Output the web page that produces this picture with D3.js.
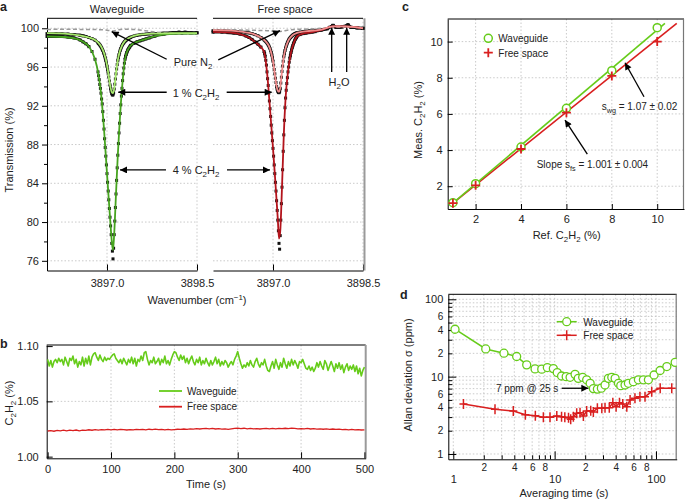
<!DOCTYPE html>
<html><head><meta charset="utf-8">
<script src="https://cdn.jsdelivr.net/npm/d3@7"></script>
<style>
body{margin:0;background:#fff}
svg{display:block}
text{font-family:"Liberation Sans",Arial,Helvetica,sans-serif;fill:#222}
</style>
</head><body>
<svg id="chart" width="685" height="500"></svg>
<script>
// ---------------- Panel a data ----------------
const wnGrid = [3896.00,3896.15,3896.25,3896.35,3896.45,3896.55,3896.60,3896.65,3896.70,3896.75,3896.80,3896.85,
3896.86,3896.87,3896.88,3896.89,3896.90,3896.91,3896.92,3896.93,3896.94,3896.95,3896.96,3896.97,3896.98,3896.99,
3897.00,3897.01,3897.02,3897.03,3897.04,3897.05,3897.06,3897.07,3897.08,3897.09,3897.10,3897.11,3897.12,3897.13,3897.14,
3897.15,3897.16,3897.17,3897.18,3897.19,3897.20,3897.21,3897.22,3897.23,3897.24,3897.25,3897.26,3897.27,3897.28,3897.29,
3897.30,3897.31,3897.32,3897.33,3897.34,3897.35,3897.36,3897.37,3897.38,3897.39,3897.40,
3897.45,3897.50,3897.55,3897.60,3897.65,3897.70,3897.80,3897.90,3897.95,3898.00,3898.05,3898.10,3898.15,3898.20,3898.25,3898.30,3898.40,3898.50];
const wg4Meas = [99.15,99.15,99.15,99.1,99.0,98.8,98.6,98.4,98.1,97.6,96.8,95.5,
95.1,94.7,94.2,93.8,93.3,92.7,92.2,91.4,90.5,89.6,88.6,87.7,86.8,85.9,
85.0,84.1,83.2,82.3,81.4,80.5,79.6,78.7,77.8,77.0,76.2,77.3,78.7,80.1,81.5,82.9,84.3,85.6,86.9,88.1,89.2,90.2,91.2,92.1,93.0,93.8,94.6,95.3,95.9,96.4,96.8,97.1,97.3,97.5,97.65,97.8,97.9,98.0,98.1,98.2,98.25,
98.45,98.6,98.7,98.8,98.9,99.0,99.2,99.35,99.4,99.45,99.5,99.55,99.55,99.6,99.55,99.6,99.55,99.55];
const wg1Meas = [99.45,99.45,99.42,99.4,99.35,99.28,99.22,99.15,99.05,98.93,98.77,98.5,
98.43,98.36,98.28,98.19,98.09,97.98,97.85,97.71,97.55,97.37,97.17,96.94,96.69,96.4,
96.09,95.74,95.37,94.97,94.56,94.16,93.79,93.47,93.24,93.12,93.13,93.34,93.73,94.23,94.77,95.30,95.80,96.25,96.64,96.98,97.27,97.52,97.73,97.91,98.07,98.20,98.32,98.42,98.51,98.59,98.66,98.72,98.78,98.83,98.88,98.92,98.96,99.0,99.03,99.06,99.09,
99.2,99.28,99.33,99.37,99.4,99.42,99.45,99.48,99.5,99.5,99.5,99.52,99.52,99.55,99.52,99.55,99.52,99.52];
const fs4Meas = [99.6,99.6,99.55,99.5,99.4,99.2,99.05,98.85,98.6,98.35,98.05,97.6,
97.4,97.1,96.7,96.2,95.5,94.8,94.1,93.3,92.5,91.7,90.9,90.0,89.2,88.4,
87.6,86.8,85.9,85.0,84.1,83.2,82.2,81.2,80.2,79.1,77.8,77.2,78.6,80.2,81.9,83.6,85.4,87.3,89.0,90.5,91.8,92.8,93.6,94.3,94.9,95.5,96.0,96.5,96.9,97.2,97.5,97.75,98.0,98.2,98.4,98.55,98.7,98.85,98.95,99.05,99.15,
99.35,99.45,99.5,99.55,99.6,99.65,99.8,99.95,100.1,100.3,100.1,100.1,100.15,100.2,100.35,100.1,100.05,100.0];
const fs1Meas = [99.75,99.75,99.72,99.7,99.65,99.58,99.52,99.45,99.35,99.22,99.05,98.82,
98.77,98.71,98.64,98.57,98.49,98.40,98.30,98.18,98.05,97.9,97.72,97.5,97.25,96.95,
96.6,96.2,95.75,95.3,94.85,94.4,94.0,93.7,93.5,93.38,93.35,93.45,93.8,94.35,94.95,95.55,96.1,96.6,97.05,97.4,97.7,97.95,98.15,98.35,98.5,98.65,98.78,98.88,98.97,99.05,99.12,99.18,99.24,99.3,99.34,99.38,99.42,99.45,99.48,99.5,99.52,
99.6,99.65,99.7,99.72,99.75,99.78,99.85,99.95,100.1,100.3,100.1,100.1,100.15,100.2,100.35,100.1,100.05,100.0];
const fitWn = [3896.00,3896.30,3896.50,3896.60,3896.70,3896.80,3896.85,3896.90,3896.95,3897.00,3897.03,3897.06,3897.08,3897.10,3897.12,3897.15,3897.18,3897.21,3897.25,3897.30,3897.35,3897.40,3897.50,3897.60,3897.80,3898.00,3898.20,3898.50];
const wg4Fit = [99.15,99.1,98.9,98.6,98.1,96.8,95.5,93.3,89.6,85.0,82.3,79.6,78.0,77.1,78.8,82.9,86.9,90.2,93.8,96.8,97.8,98.25,98.6,98.8,99.2,99.4,99.45,99.45];
const wg1Fit = [99.5,99.45,99.3,99.2,99.05,98.8,98.55,98.15,97.45,96.2,95.0,93.85,93.4,93.3,93.8,95.35,96.7,97.55,98.2,98.7,98.95,99.1,99.3,99.38,99.45,99.48,99.5,99.5];
const fs4Fit = [99.62,99.55,99.3,99.05,98.6,98.05,97.6,95.5,91.7,87.6,85.0,82.2,80.3,78.3,79.0,83.6,89.0,92.8,95.5,97.5,98.55,99.15,99.45,99.55,99.8,100.2,100.2,100.0];
const fs1Fit = [99.8,99.75,99.62,99.52,99.35,99.05,98.82,98.49,97.9,96.6,95.3,94.0,93.55,93.45,93.85,95.55,97.05,97.95,98.65,99.12,99.38,99.52,99.65,99.72,99.85,100.2,100.2,100.0];
const n2Wn = [3896.00,3896.30,3896.60,3896.90,3897.00,3897.10,3897.20,3897.30,3897.50,3897.70,3897.90,3898.10,3898.30,3898.50];
const n2Wg = [99.88,99.9,99.88,99.85,99.8,99.72,99.85,99.9,99.85,99.7,99.55,99.45,99.4,99.4];
const n2Fs = [99.85,99.85,99.8,99.75,99.7,99.68,99.75,99.85,99.9,99.95,100.05,100.1,100.1,100.05];
const aYTicks = [76,80,84,88,92,96,100];
const aYMinor = [78,82,86,90,94,98];
const aXTicks = [3897.0,3898.5];

// ---------------- Panel b data ----------------
const bWgInterval = 2.5;
const bWg = [1.088,1.082,1.087,1.081,1.086,1.088,1.085,1.089,1.086,1.088,1.083,
1.090,1.086,1.082,1.089,1.087,1.091,1.084,1.088,1.081,1.086,
1.083,1.090,1.082,1.089,1.084,1.091,1.083,1.090,1.093,1.094,
1.090,1.087,1.092,1.088,1.086,1.090,1.087,1.089,1.088,1.090,
1.092,1.093,1.089,1.087,1.085,1.088,1.084,1.089,1.086,1.083,
1.088,1.085,1.090,1.084,1.089,1.082,1.088,1.086,1.091,1.087,
1.094,1.095,1.088,1.083,1.087,1.085,1.090,1.084,1.086,1.089,
1.083,1.088,1.085,1.091,1.084,1.087,1.083,1.088,1.092,1.095,
1.094,1.090,1.087,1.092,1.088,1.091,1.085,1.089,1.084,1.088,
1.091,1.086,1.083,1.088,1.085,1.090,1.083,1.087,1.084,1.089,
1.085,1.082,1.087,1.083,1.086,1.090,1.084,1.088,1.082,1.086,
1.083,1.087,1.085,1.081,1.084,1.086,1.083,1.088,1.091,1.095,
1.089,1.084,1.080,1.083,1.081,1.085,1.082,1.087,1.083,1.081,
1.086,1.089,1.084,1.081,1.085,1.083,1.088,1.082,1.078,1.077,
1.082,1.086,1.080,1.088,1.083,1.079,1.085,1.081,1.089,1.084,
1.080,1.086,1.082,1.088,1.083,1.087,1.084,1.080,1.086,1.085,
1.088,1.084,1.080,1.079,1.082,1.078,1.081,1.077,1.080,1.085,
1.081,1.086,1.082,1.079,1.087,1.084,1.078,1.082,1.086,1.082,
1.077,1.084,1.080,1.085,1.079,1.083,1.076,1.081,1.084,1.078,
1.082,1.079,1.083,1.077,1.082,1.075,1.080,1.073,1.078,1.081];
const bFsInterval = 5;
const bFs = [1.0232,1.0236,1.0230,1.0238,1.0234,1.0240,1.0233,1.0239,1.0236,1.0241,
1.0234,1.0240,1.0237,1.0243,1.0239,1.0244,1.0240,1.0245,1.0242,1.0246,
1.0243,1.0247,1.0242,1.0246,1.0244,1.0241,1.0245,1.0243,1.0247,1.0244,
1.0246,1.0243,1.0248,1.0245,1.0249,1.0244,1.0247,1.0243,1.0246,1.0242,
1.0245,1.0248,1.0246,1.0250,1.0247,1.0251,1.0249,1.0253,1.0250,1.0254,
1.0256,1.0252,1.0255,1.0250,1.0253,1.0249,1.0252,1.0247,1.0251,1.0255,
1.0258,1.0254,1.0257,1.0252,1.0255,1.0251,1.0254,1.0250,1.0253,1.0256,
1.0252,1.0255,1.0251,1.0256,1.0253,1.0257,1.0254,1.0258,1.0255,1.0252,
1.0254,1.0251,1.0255,1.0250,1.0253,1.0249,1.0252,1.0248,1.0251,1.0247,
1.0250,1.0246,1.0249,1.0245,1.0247,1.0243,1.0246,1.0242,1.0244,1.0241,
1.0243];
const bXTicks = [0,100,200,300,400,500];
const bYTicks = [1.00,1.05,1.10];

// ---------------- Panel c data ----------------
const cRef = [1,2,4,6,8,10];
const cWg = [1.09,2.14,4.17,6.31,8.39,10.77];
const cFs = [1.06,2.05,4.06,6.07,8.10,10.0];
const cWgFitRef = [0.92,10.34], cWgFitMeas = [0.98,11.01];
const cFsFitRef = [0.92,10.86], cFsFitMeas = [0.98,11.01];
const cTicks = [2,4,6,8,10];

// ---------------- Panel d data ----------------
const dWgTau = [1.04,2.09,3.16,4.22,5.30,6.41,7.46,8.47,9.71,10.6,11.7,13.0,14.2,15.9,17.1,18.9,20.7,22.4,24.1,26.4,28.9,31.4,33.9,36.6,39.5,42.6,44.9,49.5,53.4,59.8,67.0,75.1,84.1,95.7,109.8,127.9,154.5];
const dWgSig = [41.0,22.8,20.1,18.2,14.2,12.6,12.5,13.1,12.7,11.3,10.2,10.0,9.8,10.7,9.5,9.8,9.1,8.2,7.0,6.9,7.1,7.8,9.5,9.8,9.5,8.2,7.65,7.8,8.2,8.6,9.1,9.1,9.1,10.5,12.0,13.5,15.3];
const dFsTau = [1.26,2.58,3.91,5.14,6.45,7.74,9.0,10.5,11.7,12.6,13.7,14.4,15.3,16.5,17.8,19.2,20.7,22.7,24.1,26.4,29.2,31.4,34.6,37.5,40.4,43.6,47.0,51.5,55.5,62.0,69.4,77.9,90.7,110,143];
const dFsSig = [4.44,3.78,3.6,3.22,3.13,2.98,2.98,3.10,3.04,2.98,2.95,2.81,3.04,3.36,3.42,3.10,3.6,3.63,3.5,3.90,3.90,3.97,3.97,4.61,4.09,4.61,4.44,4.09,5.0,5.25,5.51,5.51,6.4,7.07,7.07];
const dMajor = [1,10,100];
const dMinorX = [2,3,4,5,6,7,8,9,20,30,40,50,60,70,80,90];
const dLabelX = [2,4,6,8,20,40,60,80];
const dMinorY = [2,3,4,5,6,7,8,9,20,30,40,50,60,70,80,90];
const dLabelY = [2,4,6,20,40,60];

// ---------------- colours ----------------
const GREEN = "#66cc1a", RED = "#d91f1f";
const WG4C = "#46a31f", WG1C = "#a6e86c", FS4C = "#b3141c", FS1C = "#f08c8c";

const svg = d3.select("#chart");
svg.append("rect").attr("width",685).attr("height",500).attr("fill","#fff");
const defs = svg.append("defs");
defs.append("marker").attr("id","ah").attr("viewBox","0 0 10 10").attr("refX",10).attr("refY",5)
  .attr("markerWidth",9).attr("markerHeight",7).attr("markerUnits","userSpaceOnUse").attr("orient","auto")
  .append("path").attr("d","M0,0L10,5L0,10z").attr("fill","#000");

function rich(parent, x, y, parts, opts={}) {
  const size = opts.size || 11;
  const t = parent.append("text").attr("x", x).attr("y", y).attr("font-size", size)
    .attr("text-anchor", opts.anchor || "start");
  if (opts.weight) t.attr("font-weight", opts.weight);
  if (opts.rotate) t.attr("transform", `rotate(-90 ${x} ${y})`);
  let shift = 0;
  parts.forEach(p => {
    const [s, mode] = Array.isArray(p) ? p : [p, ""];
    const target = mode === "sub" ? 3 : mode === "sup" ? -4 : 0;
    const ts = t.append("tspan").text(s);
    if (target - shift !== 0) ts.attr("dy", target - shift);
    if (mode) ts.attr("font-size", size * 0.72);
    shift = target;
  });
  return t;
}
function arrow(g, x1, y1, x2, y2) {
  g.append("line").attr("x1",x1).attr("y1",y1).attr("x2",x2).attr("y2",y2)
    .attr("stroke","#000").attr("stroke-width",1.3).attr("marker-end","url(#ah)");
}
function styleAxis(g, size) {
  g.attr("font-family", null).attr("font-size", size || 11);
  g.selectAll("text").attr("fill", "#222");
}
function grid(g, lines) {
  g.selectAll(null).data(lines).join("line")
    .attr("x1", d=>d[0]).attr("y1", d=>d[1]).attr("x2", d=>d[2]).attr("y2", d=>d[3])
    .attr("stroke","#bdbdbd").attr("stroke-width",0.8).attr("stroke-dasharray","1.5,2");
}

// ================= Panel a =================
const aY = d3.scaleLinear().domain([75.0, 101.03]).range([270.5, 18.3]);
const aXL = d3.scaleLinear().domain([3896.0, 3898.5]).range([47, 197]);
const aXR = d3.scaleLinear().domain([3896.0, 3898.5]).range([213, 363]);
const ga = svg.append("g");

[aXL, aXR].forEach(xs => {
  const [x0, x1] = xs.range();
  grid(ga, aYTicks.map(v => [x0, aY(v), x1, aY(v)]).concat(aXTicks.map(v => [xs(v), aY.range()[1], xs(v), aY.range()[0]])));
  ga.append("line").attr("x1",x0).attr("x2",x1).attr("y1",aY.range()[1]).attr("y2",aY.range()[1]).attr("stroke","#000").attr("stroke-width",1);
  const ax = ga.append("g").attr("transform",`translate(0,${aY.range()[0]})`)
    .call(d3.axisBottom(xs).tickValues(aXTicks).tickFormat(d3.format(".1f")).tickSize(-6).tickSizeOuter(0).tickPadding(9));
  styleAxis(ax, 11);
});
ga.append("line").attr("x1",364.5).attr("x2",364.5).attr("y1",aY.range()[1]).attr("y2",aY.range()[0]).attr("stroke","#9a9a9a").attr("stroke-width",2);
const aLeft = ga.append("g").attr("transform","translate(47,0)")
  .call(d3.axisLeft(aY).tickValues(aYTicks).tickSize(5).tickSizeOuter(0).tickPadding(3));
styleAxis(aLeft, 11);
ga.append("g").attr("transform","translate(47,0)")
  .call(d3.axisLeft(aY).tickValues(aYMinor).tickSize(3).tickSizeOuter(0).tickFormat(""))
  .select(".domain").remove();

function drawMeasured(xs, T) {
  const pts = wnGrid.map((w,i) => [xs(w), aY(T[i])]);
  const runs = []; let cur = [pts[0]];
  for (let i = 1; i < pts.length; i++) {
    if (Math.abs(pts[i][1] - pts[i-1][1]) < 3.6) cur.push(pts[i]);
    else { runs.push(cur); cur = [pts[i]]; }
  }
  runs.push(cur);
  runs.filter(r => r.length > 1).forEach(r => ga.append("path")
    .attr("d", d3.line().curve(d3.curveMonotoneX)(r)).attr("fill","none")
    .attr("stroke","#111").attr("stroke-width",2.8).attr("stroke-linejoin","round"));
  ga.append("g").selectAll("rect").data(pts).join("rect")
    .attr("x", d => d[0]-1.5).attr("y", d => d[1]-1.5).attr("width",3).attr("height",3).attr("fill","#111");
}
function drawLine(xs, wn, T, color, width, dash) {
  const p = ga.append("path")
    .attr("d", d3.line().x((d,i)=>xs(wn[i])).y(d=>aY(d)).curve(d3.curveMonotoneX)(T))
    .attr("fill","none").attr("stroke",color).attr("stroke-width",width);
  if (dash) p.attr("stroke-dasharray", dash);
}
drawMeasured(aXL, wg4Meas);
drawMeasured(aXL, wg1Meas);
drawMeasured(aXR, fs4Meas);
drawMeasured(aXR, fs1Meas);
drawLine(aXL, n2Wn, n2Wg, "#9a9a9a", 1.5, "4,2.5");
drawLine(aXR, n2Wn, n2Fs, "#9a9a9a", 1.5, "4,2.5");
drawLine(aXL, fitWn, wg4Fit, WG4C, 1.8);
drawLine(aXL, fitWn, wg1Fit, WG1C, 1.8);
drawLine(aXR, fitWn, fs4Fit, FS4C, 1.8);
drawLine(aXR, fitWn, fs1Fit, FS1C, 1.8);

// annotations panel a
arrow(ga, aXL(3897.995), aY(96.8), aXL(3897.078), aY(99.65));
arrow(ga, aXR(3896.088), aY(96.73), aXR(3897.117), aY(99.75));
arrow(ga, aXL(3897.995), aY(93.4), aXL(3897.188), aY(93.4));
arrow(ga, aXR(3896.228), aY(93.4), aXR(3896.978), aY(93.4));
arrow(ga, aXL(3897.983), aY(85.38), aXL(3897.217), aY(85.38));
arrow(ga, aXR(3896.233), aY(85.38), aXR(3896.95), aY(85.38));
arrow(ga, aXR(3897.978), aY(95.5), aXR(3897.978), aY(100.05));
arrow(ga, aXR(3898.228), aY(95.5), aXR(3898.228), aY(100.05));
rich(ga, 193, 65.5, ["Pure N", ["2","sub"]], {anchor:"middle"});
rich(ga, 196, 96.5, ["1 % C", ["2","sub"], "H", ["2","sub"]], {anchor:"middle"});
rich(ga, 196, 174, ["4 % C", ["2","sub"], "H", ["2","sub"]], {anchor:"middle"});
rich(ga, 339, 85.5, ["H", ["2","sub"], "O"], {anchor:"middle"});
rich(ga, 117, 12.5, ["Waveguide"], {anchor:"middle"});
rich(ga, 285, 12.5, ["Free space"], {anchor:"middle"});
rich(ga, 12.5, 150, ["Transmission (%)"], {anchor:"middle", rotate:true});
rich(ga, 197, 304, ["Wavenumber (cm", ["−1","sup"], ")"], {anchor:"middle"});
rich(ga, 0, 11, ["a"], {size:12.5, weight:"bold"});

// ================= Panel b =================
const bX = d3.scaleLinear().domain([-1.5, 502]).range([46.7, 365.7]);
const bY = d3.scaleLinear().domain([0.9985, 1.101]).range([458.3, 345]);
const gb = svg.append("g");
grid(gb, [100,200,300,400].map(v => [bX(v), bY.range()[1], bX(v), bY.range()[0]]).concat([[bX.range()[0], bY(1.05), bX.range()[1], bY(1.05)]]));
gb.append("line").attr("x1",bX.range()[0]).attr("x2",bX.range()[1]).attr("y1",345).attr("y2",345).attr("stroke","#000");
gb.append("line").attr("x1",365.7).attr("x2",365.7).attr("y1",345).attr("y2",458.3).attr("stroke","#9a9a9a").attr("stroke-width",2);
const bxa = gb.append("g").attr("transform",`translate(0,${bY.range()[0]})`)
  .call(d3.axisBottom(bX).tickValues(bXTicks).tickSize(-6).tickSizeOuter(0).tickPadding(7));
styleAxis(bxa, 11);
const bya = gb.append("g").attr("transform",`translate(${bX.range()[0]},0)`)
  .call(d3.axisLeft(bY).tickValues(bYTicks).tickFormat(d3.format(".2f")).tickSize(-6).tickSizeOuter(0).tickPadding(8));
styleAxis(bya, 11);
gb.append("path").attr("d", d3.line().x((d,i)=>bX(i*bWgInterval)).y(d=>bY(d))(bWg))
  .attr("fill","none").attr("stroke",GREEN).attr("stroke-width",1.6).attr("stroke-linejoin","round");
gb.append("path").attr("d", d3.line().x((d,i)=>bX(i*bFsInterval)).y(d=>bY(d))(bFs))
  .attr("fill","none").attr("stroke",RED).attr("stroke-width",1.3);
gb.append("line").attr("x1",159).attr("x2",182).attr("y1",391).attr("y2",391).attr("stroke",GREEN).attr("stroke-width",1.8);
gb.append("line").attr("x1",159).attr("x2",182).attr("y1",406.7).attr("y2",406.7).attr("stroke",RED).attr("stroke-width",1.8);
rich(gb, 187, 394.5, ["Waveguide"], {size:10});
rich(gb, 187, 410.2, ["Free space"], {size:10});
rich(gb, 12.5, 403, ["C", ["2","sub"], "H", ["2","sub"], " (%)"], {anchor:"middle", rotate:true});
rich(gb, 206, 488, ["Time (s)"], {anchor:"middle"});
rich(gb, 0, 348, ["b"], {size:12.5, weight:"bold"});

// ================= Panel c =================
const cX = d3.scaleLinear().domain([0.77, 11.18]).range([447.7, 684]);
const cY = d3.scaleLinear().domain([0.74, 11.25]).range([209, 19]);
const gc = svg.append("g");
grid(gc, cTicks.map(v => [cX(v), 19, cX(v), 209]).concat(cTicks.map(v => [447.7, cY(v), 684, cY(v)])));
gc.append("line").attr("x1",447.7).attr("x2",684).attr("y1",19).attr("y2",19).attr("stroke","#000");
gc.append("line").attr("x1",683.5).attr("x2",683.5).attr("y1",19).attr("y2",209).attr("stroke","#777").attr("stroke-width",1.2);
const cxa = gc.append("g").attr("transform","translate(0,209)")
  .call(d3.axisBottom(cX).tickValues(cTicks).tickSize(-5).tickSizeOuter(0).tickPadding(6));
styleAxis(cxa, 11);
const cya = gc.append("g").attr("transform","translate(447.7,0)")
  .call(d3.axisLeft(cY).tickValues(cTicks).tickSize(-5).tickSizeOuter(0).tickPadding(5));
styleAxis(cya, 11);
gc.append("line").attr("x1",cX(cFsFitRef[0])).attr("y1",cY(cFsFitMeas[0])).attr("x2",cX(cFsFitRef[1])).attr("y2",cY(cFsFitMeas[1]))
  .attr("stroke",RED).attr("stroke-width",1.6);
gc.append("line").attr("x1",cX(cWgFitRef[0])).attr("y1",cY(cWgFitMeas[0])).attr("x2",cX(cWgFitRef[1])).attr("y2",cY(cWgFitMeas[1]))
  .attr("stroke",GREEN).attr("stroke-width",1.6);
gc.selectAll("circle.wg").data(cRef).join("circle").attr("class","wg")
  .attr("cx", d=>cX(d)).attr("cy", (d,i)=>cY(cWg[i])).attr("r",4)
  .attr("fill","#fff").attr("stroke",GREEN).attr("stroke-width",1.5);
gc.selectAll("path.fs").data(cRef).join("path").attr("class","fs")
  .attr("d",(d,i)=>`M${cX(d)-4.5},${cY(cFs[i])}H${cX(d)+4.5}M${cX(d)},${cY(cFs[i])-4.5}V${cY(cFs[i])+4.5}`)
  .attr("stroke",RED).attr("stroke-width",1.8);
gc.append("circle").attr("cx",488.3).attr("cy",38.3).attr("r",4).attr("fill","#fff").attr("stroke",GREEN).attr("stroke-width",1.5);
gc.append("path").attr("d","M483.8,52.7H492.8M488.3,48.2V57.2").attr("stroke",RED).attr("stroke-width",1.8);
rich(gc, 498.3, 42, ["Waveguide"], {size:10});
rich(gc, 498.3, 56.5, ["Free space"], {size:10});
arrow(gc, cX(9.418), cY(6.951), cX(8.58), cY(8.83));
arrow(gc, cX(6.92), cY(3.78), cX(5.937), cY(5.66));
rich(gc, 601.7, 109.5, ["s", ["wg","sub"], " = 1.07 ± 0.02"], {size:10});
rich(gc, 536.7, 167.5, ["Slope s", ["fs","sub"], " = 1.001 ± 0.004"], {size:10});
rich(gc, 566.7, 239, ["Ref. C", ["2","sub"], "H", ["2","sub"], " (%)"], {anchor:"middle"});
rich(gc, 422, 120, ["Meas. C", ["2","sub"], "H", ["2","sub"], " (%)"], {anchor:"middle", rotate:true});
rich(gc, 402, 11, ["c"], {size:12.5, weight:"bold"});

// ================= Panel d =================
const dX = d3.scaleLog().domain([0.893, 160]).range([448.3, 676.7]);
const dY = d3.scaleLog().domain([0.854, 116]).range([459.3, 294.3]);
const gd = svg.append("g");
const allX = dMajor.concat(dMinorX), allY = dMajor.concat(dMinorY);
grid(gd, allX.map(v => [dX(v), 294.3, dX(v), 459.3]).concat(allY.map(v => [448.3, dY(v), 676.7, dY(v)])));
gd.append("line").attr("x1",448.3).attr("x2",676.7).attr("y1",294.3).attr("y2",294.3).attr("stroke","#000");
gd.append("line").attr("x1",676.2).attr("x2",676.2).attr("y1",294.3).attr("y2",459.3).attr("stroke","#777").attr("stroke-width",1.2);
const dxMaj = gd.append("g").attr("transform","translate(0,459.3)")
  .call(d3.axisBottom(dX).tickValues(dMajor).tickFormat(d3.format("d")).tickSize(-8).tickSizeOuter(0).tickPadding(16));
styleAxis(dxMaj, 11);
const dxMin = gd.append("g").attr("transform","translate(0,459.3)")
  .call(d3.axisBottom(dX).tickValues(dMinorX).tickFormat(d => dLabelX.includes(d) ? String(d >= 10 ? d/10 : d) : "").tickSize(-4).tickSizeOuter(0).tickPadding(5));
dxMin.select(".domain").remove();
styleAxis(dxMin, 10);
const dyMaj = gd.append("g").attr("transform","translate(448.3,0)")
  .call(d3.axisLeft(dY).tickValues(dMajor).tickFormat(d3.format("d")).tickSize(-8).tickSizeOuter(0).tickPadding(5));
styleAxis(dyMaj, 11);
const dyMin = gd.append("g").attr("transform","translate(448.3,0)")
  .call(d3.axisLeft(dY).tickValues(dMinorY).tickFormat(d => dLabelY.includes(d) ? String(d >= 10 ? d/10 : d) : "").tickSize(-4).tickSizeOuter(0).tickPadding(5));
dyMin.select(".domain").remove();
styleAxis(dyMin, 10);
const dClip = defs.append("clipPath").attr("id","dclip");
dClip.append("rect").attr("x",448.3).attr("y",294.3).attr("width",228.4).attr("height",165);
const gdp = gd.append("g").attr("clip-path","url(#dclip)");
gdp.append("path").attr("d", d3.line().x((d,i)=>dX(dFsTau[i])).y(d=>dY(d))(dFsSig))
  .attr("fill","none").attr("stroke",RED).attr("stroke-width",1.5);
gdp.selectAll("path.fs").data(dFsSig).join("path").attr("class","fs")
  .attr("d",(d,i)=>`M${dX(dFsTau[i])-4},${dY(d)}H${dX(dFsTau[i])+4}M${dX(dFsTau[i])},${dY(d)-5}V${dY(d)+5}`)
  .attr("stroke",RED).attr("stroke-width",1.5);
gdp.append("path").attr("d", d3.line().x((d,i)=>dX(dWgTau[i])).y(d=>dY(d))(dWgSig))
  .attr("fill","none").attr("stroke",GREEN).attr("stroke-width",1.5);
gdp.selectAll("circle.wg").data(dWgSig).join("circle").attr("class","wg")
  .attr("cx",(d,i)=>dX(dWgTau[i])).attr("cy",d=>dY(d)).attr("r",4)
  .attr("fill","#fff").attr("stroke",GREEN).attr("stroke-width",1.3);
gd.append("line").attr("x1",556.7).attr("x2",576.7).attr("y1",321.7).attr("y2",321.7).attr("stroke",GREEN).attr("stroke-width",1.5);
gd.append("circle").attr("cx",566.7).attr("cy",321.7).attr("r",4).attr("fill","#fff").attr("stroke",GREEN).attr("stroke-width",1.3);
gd.append("line").attr("x1",556.7).attr("x2",576.7).attr("y1",335.3).attr("y2",335.3).attr("stroke",RED).attr("stroke-width",1.5);
gd.append("path").attr("d","M562.7,335.3H570.7M566.7,330.3V340.3").attr("stroke",RED).attr("stroke-width",1.5);
rich(gd, 583.3, 325.5, ["Waveguide"], {size:10});
rich(gd, 583.3, 339, ["Free space"], {size:10});
arrow(gd, dX(11.74), dY(7.08), dX(21.5), dY(7.08));
rich(gd, 558.3, 392, ["7 ppm @ 25 s"], {size:10, anchor:"end"});
rich(gd, 411.5, 375, ["Allan deviation σ (ppm)"], {anchor:"middle", rotate:true});
rich(gd, 564, 497, ["Averaging time (s)"], {anchor:"middle"});
rich(gd, 400, 299, ["d"], {size:12.5, weight:"bold"});
</script>
</body></html>
